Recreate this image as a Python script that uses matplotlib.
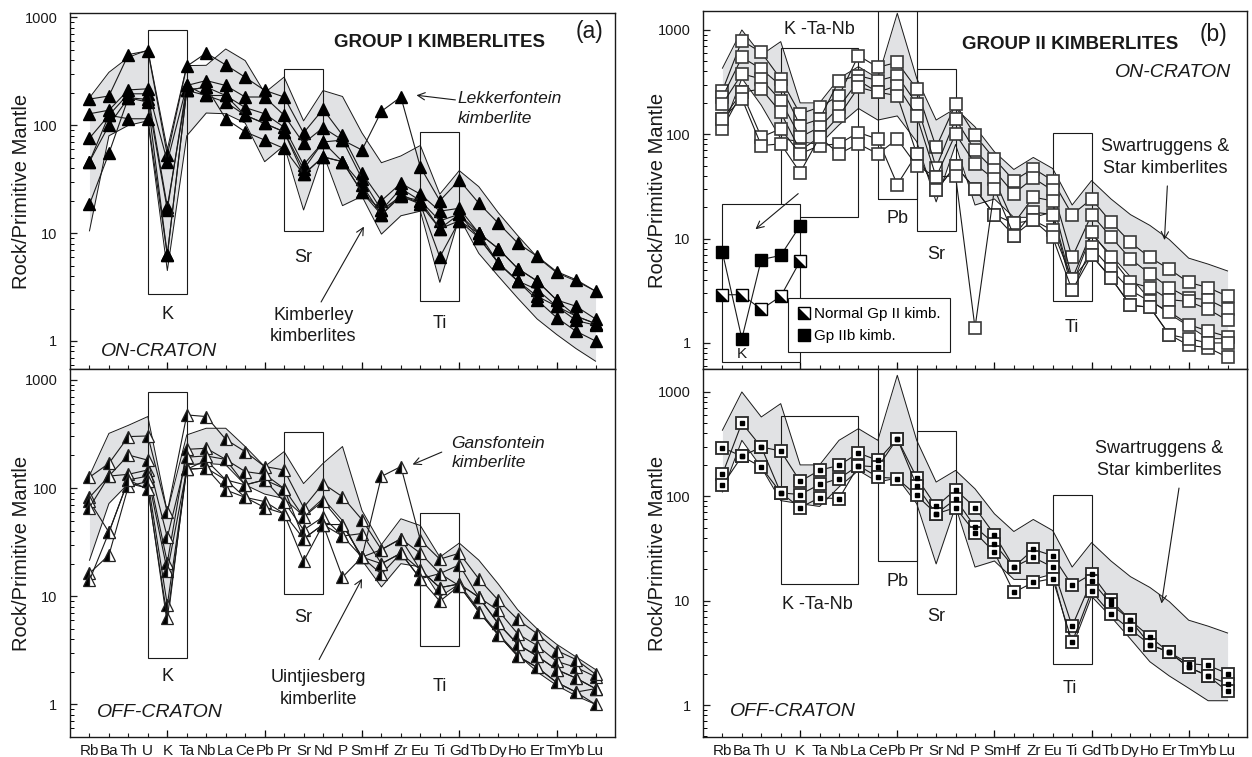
import numpy as np
import matplotlib
matplotlib.use("Agg")
import matplotlib.pyplot as plt
from matplotlib.patches import Rectangle
from matplotlib.lines import Line2D
from matplotlib.ticker import LogLocator, NullFormatter, FixedLocator, FixedFormatter

plt.rcParams['font.family'] = ['Liberation Sans', 'DejaVu Sans']

elements = ["Rb", "Ba", "Th", "U", "K", "Ta", "Nb", "La", "Ce", "Pb", "Pr", "Sr", "Nd", "P",
            "Sm", "Hf", "Zr", "Eu", "Ti", "Gd", "Tb", "Dy", "Ho", "Er", "Tm", "Yb", "Lu"]

# ---- Group I, on-craton (Kimberley, Lekkerfontein) ----
g1_on_lekkerfontein = [128, 138, 213, 218, 46, 234, 260, 234, 183, 183, 124, 68, 95, 73, 59, 135, 183,
                       41, 20, 31, 19, 12.4, 8.1, 6.1, 4.4, 3.7, 2.9]
g1_on_s2 = [175, 187, 453, 490, 53, 353, 468, 363, 279, 211, 183, 85, 141, 81, 36, 20, 29,
            23, 16, 17, 10, 7.2, 4.7, 3.6, 2.4, 2.1, 1.6]
g1_on_s3 = [76, 124, 196, 196, 17.6, 211, 226, 189, 146, 128, 96, 43, 70, 73, 32, 16.3, 26,
            20, 13, 15, 9.1, 5.3, 3.6, 3.0, 2.1, 1.7, 1.45]
g1_on_s4 = [46, 100, 180, 174, 16.5, 234, 189, 164, 124, 104, 87, 39, 70, 46, 28, 14.8, 23,
            18.6, 11, 13, 9.1, 5.3, 3.6, 2.6, 2.1, 1.55, 1.4]
g1_on_s5 = [18.5, 55, 180, 164, 6.3, 211, 226, 115, 87, 73, 61, 35, 51, 46, 24, 16.3, 22,
            18.6, 6.0, 13, 10, 5.3, 3.6, 2.4, 1.65, 1.23, 1.0]
g1_on_s6 = [46, 124, 115, 115, 6.3, 211, 189, 189, 124, 104, 87, 35, 51, 46, 24, 14.8, 22,
            20, 11, 15, 10, 7.2, 4.7, 3.6, 2.4, 1.7, 1.45]
g1_on_field_hi = [180, 310, 427, 500, 60, 358, 360, 510, 398, 200, 280, 110, 210, 185, 85, 45, 52,
                  65, 23, 38, 27, 15.5, 9.5, 6.0, 4.3, 3.6, 2.9]
g1_on_field_lo = [10.5, 80, 100, 110, 4.5, 80, 130, 128, 105, 46, 65, 16.4, 55, 18, 22, 9.8, 14.5,
                  16, 3.5, 14, 6.5, 4.0, 2.5, 1.6, 1.15, 0.85, 0.65]

# ---- Group I, off-craton (Gansfontein, Uintjiesberg) ----
g1_off_gansfontein = [66, 129, 202, 181, 35, 193, 198, 184, 142, 134, 99, 54, 76, 46, 23, 128, 158,
                      33, 22, 25, 14.5, 9.2, 6.1, 4.5, 3.15, 2.6, 1.9]
g1_off_s2 = [126, 169, 299, 303, 60, 474, 458, 282, 217, 158, 147, 66, 110, 83, 51, 27, 34,
             25, 16.2, 19.5, 9.8, 7.4, 4.5, 3.5, 2.5, 2.2, 1.8]
g1_off_s3 = [82, 129, 134, 147, 20.5, 228, 233, 184, 107, 119, 75, 41, 54, 36, 38, 20, 25,
             17.5, 12, 13, 9.8, 5.6, 3.6, 2.8, 2.1, 1.75, 1.4]
g1_off_s4 = [76, 39, 119, 129, 17, 149, 181, 119, 82, 75, 58, 34, 46, 15, 23, 16, 25,
             14.5, 9, 12.5, 7.2, 4.4, 2.8, 2.2, 1.6, 1.3, 1.0]
g1_off_uintjiesberg = [16.3, 24, 104, 115, 8.3, 149, 153, 96, 82, 66, 58, 21, 46, 36, 23, 27, 34,
                       17.5, 12, 13, 9.8, 5.6, 3.6, 2.8, 2.1, 1.75, 1.4]
g1_off_s6 = [14, 39, 119, 97, 6.3, 149, 153, 119, 107, 119, 99, 34, 46, 46, 23, 20, 25,
             14.5, 16.2, 12.5, 7.2, 4.4, 2.8, 2.2, 1.6, 1.3, 1.4]
g1_off_field_hi = [130, 320, 380, 458, 60, 310, 357, 357, 242, 158, 217, 110, 169, 242, 62, 30, 52,
                   45, 23, 31, 21.6, 13, 7.5, 5.0, 3.6, 2.75, 2.1]
g1_off_field_lo = [21.5, 72, 110, 100, 5.5, 164, 169, 164, 107, 88, 80, 55, 80, 50, 21.5, 12.2, 20,
                   18.7, 9.9, 13, 7.5, 4.5, 2.9, 2.0, 1.5, 1.2, 1.0]

# ---- Group II, on-craton ----
g2_on_s1 = [262, 790, 610, 339, 157, 182, 235, 567, 439, 490, 272, 75, 195, 98, 58, 36, 47,
            36, 17, 24, 14.4, 9.2, 6.6, 5.1, 3.8, 3.4, 2.8]
g2_on_s2 = [227, 547, 423, 293, 121, 140, 327, 365, 327, 365, 195, 48, 140, 70, 45, 27, 38,
            29, 6.6, 17, 10.4, 6.4, 4.6, 3.4, 2.7, 2.6, 2.1]
g2_on_s3 = [195, 380, 339, 210, 94, 117, 182, 327, 253, 293, 150, 39, 101, 52, 37, 14, 25,
            23, 4.1, 11.5, 6.6, 3.8, 3.4, 2.6, 2.5, 2.1, 1.65]
g2_on_s4 = [140, 253, 272, 162, 70, 94, 150, 282, 253, 235, 65, 29, 50, 30, 17, 10.7, 18,
            17, 3.2, 8.3, 5.1, 3.2, 2.5, 2.0, 1.5, 1.3, 1.15]
g2_on_s5 = [113, 253, 94, 113, 65, 78, 81, 104, 90, 33, 65, 29, 50, 30, 17, 14, 15,
            12, 4.1, 6.9, 4.2, 2.3, 2.2, 1.2, 0.95, 0.9, 0.73]
g2_on_s6 = [140, 220, 78, 81, 43, 94, 65, 81, 65, 90, 50, 39, 40, 1.4, 30, 10.7, 15,
            10.3, 3.2, 6.9, 4.2, 2.3, 2.2, 1.2, 1.1, 1.0, 1.0]

# ---- Group II, off-craton ----
g2_off_s1 = [163, 505, 297, 272, 139, 178, 198, 260, 221, 357, 151, 80, 116, 78, 43, 21, 31,
             27, 14, 18, 10.1, 6.5, 4.5, 3.2, 2.5, 2.4, 2.0]
g2_off_s2 = [128, 242, 191, 108, 104, 130, 148, 197, 191, 357, 126, 68, 94, 51, 35, 21, 26,
             21, 5.7, 15.5, 9.3, 6.5, 3.8, 3.2, 2.3, 1.9, 1.6]
g2_off_s3 = [293, 242, 297, 108, 78, 97, 95, 197, 153, 148, 102, 68, 78, 45, 29, 12, 15,
             16.3, 4.0, 12.3, 7.4, 5.3, 3.8, 3.2, 2.3, 1.9, 1.35]

# Swartruggens & Star field (both Group II panels)
g2_field_hi = [430, 1000, 576, 773, 200, 200, 344, 445, 344, 1445, 344, 137, 177, 118, 68, 46, 60,
               47, 21, 36, 24, 17, 13.4, 9.8, 6.5, 5.7, 4.9]
g2_field_lo = [110, 344, 190, 91, 85, 80, 123, 177, 137, 150, 85, 22.5, 80, 21, 24, 16, 16,
               18, 3.6, 11, 7, 4.3, 2.6, 1.9, 1.45, 1.1, 1.1]

# K-Ta-Nb inset (U, K, Ta, Nb, La)
inset_normal = [2.9, 2.9, 2.1, 2.8, 6.1]
inset_gp2b = [7.4, 1.1, 6.3, 6.9, 13.3]

x = np.arange(1, len(elements) + 1)
FIELD = '#e1e2e4'
INK = '#1a1a1a'

fig = plt.figure(figsize=(12.52, 7.57), dpi=100)
W, H = 1252.0, 757.0
ax_a1 = fig.add_axes([70 / W, 1 - 369 / H, 545 / W, 356 / H])
ax_a2 = fig.add_axes([70 / W, 1 - 737 / H, 545 / W, 368 / H])
ax_b1 = fig.add_axes([703 / W, 1 - 369 / H, 544 / W, 358 / H])
ax_b2 = fig.add_axes([703 / W, 1 - 737 / H, 544 / W, 368 / H])


def style_axis(ax, ylim, show_xlabels):
    ax.set_yscale('log')
    ax.set_xlim(0, 28)
    ax.set_ylim(*ylim)
    ax.set_yticks([1, 10, 100, 1000])
    ax.set_yticklabels(['1', '10', '100', '1000'])
    ax.yaxis.set_minor_locator(LogLocator(base=10, subs=np.arange(2, 10)))
    ax.yaxis.set_minor_formatter(NullFormatter())
    ax.xaxis.remove_overlapping_locs = False
    ax.xaxis.set_major_locator(FixedLocator([5, 10, 15, 20, 25]))
    ax.xaxis.set_minor_locator(FixedLocator(list(x)))
    ax.set_xticklabels([])
    if show_xlabels:
        ax.xaxis.set_minor_formatter(FixedFormatter(elements))
    else:
        ax.xaxis.set_minor_formatter(NullFormatter())
    ax.tick_params(axis='x', which='major', direction='in', length=5, width=0.9, top=False)
    ax.tick_params(axis='x', which='minor', direction='in', length=2.6, width=0.8, top=False,
                   labelsize=11, pad=5, colors=INK)
    ax.tick_params(axis='y', which='major', direction='in', length=5, width=0.9, right=False,
                   labelsize=10.5, pad=9, colors=INK)
    ax.tick_params(axis='y', which='minor', direction='in', length=2.6, width=0.7, right=False)
    for s in ax.spines.values():
        s.set_linewidth(1.0)
        s.set_color(INK)
    ax.set_ylabel('Rock/Primitive Mantle', fontsize=14.5, color=INK)


def draw_box(ax, x0, x1, y0, y1):
    ax.add_patch(Rectangle((x0, y0), x1 - x0, y1 - y0, fill=False, lw=0.8,
                           edgecolor=INK, zorder=2))


def draw_field(ax, hi, lo):
    ax.fill_between(x, lo, hi, color=FIELD, lw=0, zorder=1)
    ax.plot(x, hi, color=INK, lw=0.7, zorder=1.5)
    ax.plot(x, lo, color=INK, lw=0.7, zorder=1.5)


def arrow(ax, xy_from, xy_to):
    ax.annotate('', xy=xy_to, xytext=xy_from,
                arrowprops=dict(arrowstyle='->', lw=0.8, color=INK, shrinkA=0, shrinkB=0,
                                mutation_scale=13), zorder=5)


# ---------------- (a) top: Group I on-craton ----------------
ax = ax_a1
style_axis(ax, (0.55, 1100), False)
ax.yaxis.set_label_coords(-0.072, 0.5)
draw_field(ax, g1_on_field_hi, g1_on_field_lo)
draw_box(ax, 4, 6, 2.7, 770)
draw_box(ax, 11, 13, 10.4, 334)
draw_box(ax, 18, 20, 2.37, 87)
for s in [g1_on_s2, g1_on_s3, g1_on_s4, g1_on_s5, g1_on_s6, g1_on_lekkerfontein]:
    ax.plot(x, s, color=INK, lw=0.8, marker='^', ms=8, mfc='black', mec='black', zorder=3)
ax.text(19.0, 590, 'GROUP I KIMBERLITES', fontsize=13.5, fontweight='bold', ha='center',
        va='center', color=INK)
ax.text(26.7, 740, '(a)', fontsize=16.5, ha='center', va='center', color=INK)
ax.text(19.9, 143, 'Lekkerfontein\nkimberlite', fontsize=12.5, style='italic', ha='left',
        va='center', linespacing=1.35, color=INK)
arrow(ax, (19.8, 172), (17.8, 190))
ax.text(5, 1.75, 'K', fontsize=13, ha='center', va='center', color=INK)
ax.text(12, 6.0, 'Sr', fontsize=13, ha='center', va='center', color=INK)
ax.text(19, 1.45, 'Ti', fontsize=13, ha='center', va='center', color=INK)
ax.text(12.5, 1.38, 'Kimberley\nkimberlites', fontsize=13, ha='center', va='center',
        linespacing=1.35, color=INK)
arrow(ax, (12.9, 2.3), (15.1, 11.5))
ax.text(1.6, 0.8, 'ON-CRATON', fontsize=14, style='italic', ha='left', va='center', color=INK)

# ---------------- (a) bottom: Group I off-craton ----------------
ax = ax_a2
style_axis(ax, (0.5, 1260), True)
ax.yaxis.set_label_coords(-0.072, 0.5)
draw_field(ax, g1_off_field_hi, g1_off_field_lo)
draw_box(ax, 4, 6, 2.7, 780)
draw_box(ax, 11, 13, 10.4, 333)
draw_box(ax, 18, 20, 3.5, 59)
for s in [g1_off_s2, g1_off_s3, g1_off_s4, g1_off_uintjiesberg, g1_off_s6, g1_off_gansfontein]:
    ax.plot(x, s, color=INK, lw=0.8, marker='^', ms=8, fillstyle='left', mfc='black',
            mfcalt='white', mec='#222222', mew=0.9, zorder=3)
ax.text(19.6, 212, 'Gansfontein\nkimberlite', fontsize=12.5, style='italic', ha='left',
        va='center', linespacing=1.35, color=INK)
arrow(ax, (19.1, 215), (17.6, 165))
ax.text(5, 1.8, 'K', fontsize=13, ha='center', va='center', color=INK)
ax.text(12, 6.4, 'Sr', fontsize=13, ha='center', va='center', color=INK)
ax.text(19, 1.45, 'Ti', fontsize=13, ha='center', va='center', color=INK)
ax.text(12.75, 1.4, 'Uintjiesberg\nkimberlite', fontsize=13, ha='center', va='center',
        linespacing=1.35, color=INK)
arrow(ax, (12.8, 2.6), (15.0, 14.5))
ax.text(1.4, 0.85, 'OFF-CRATON', fontsize=14, style='italic', ha='left', va='center', color=INK)

# ---------------- (b) top: Group II on-craton ----------------
ax = ax_b1
style_axis(ax, (0.563, 1520), False)
ax.yaxis.set_label_coords(-0.066, 0.5)
draw_field(ax, g2_field_hi, g2_field_lo)
draw_box(ax, 4, 8, 16, 672)
draw_box(ax, 9, 11, 24, 3000)
draw_box(ax, 11, 13, 11.8, 423)
draw_box(ax, 18, 20, 2.5, 103)
for s in [g2_on_s1, g2_on_s2, g2_on_s3, g2_on_s4, g2_on_s5, g2_on_s6]:
    ax.plot(x, s, color=INK, lw=0.8, marker='s', ms=8.5, mfc='white', mec='#3a3a3a',
            mew=1.2, zorder=3)
ax.text(6.0, 1000, 'K -Ta-Nb', fontsize=13, ha='center', va='center', color=INK)
ax.text(18.9, 720, 'GROUP II KIMBERLITES', fontsize=13.5, fontweight='bold', ha='center',
        va='center', color=INK)
ax.text(26.3, 900, '(b)', fontsize=16.5, ha='center', va='center', color=INK)
ax.text(27.2, 395, 'ON-CRATON', fontsize=14, style='italic', ha='right', va='center', color=INK)
ax.text(10, 15.5, 'Pb', fontsize=13, ha='center', va='center', color=INK)
ax.text(12, 7.0, 'Sr', fontsize=13, ha='center', va='center', color=INK)
ax.text(19, 1.4, 'Ti', fontsize=13, ha='center', va='center', color=INK)
ax.text(23.8, 60, 'Swartruggens &\nStar kimberlites', fontsize=13, ha='center', va='center',
        linespacing=1.35, color=INK)
arrow(ax, (23.9, 32), (23.75, 9.7))

# K-Ta-Nb inset
ax.add_patch(Rectangle((1, 0.66), 4, 21.5 - 0.66, facecolor='white', lw=0.8,
                       edgecolor=INK, zorder=2))
arrow(ax, (4.9, 27), (2.7, 12.3))
ix = np.arange(1, 6)
ax.plot(ix, inset_gp2b, color=INK, lw=0.8, marker='s', ms=9, mfc='black', mec='black', zorder=3)
ax.plot(ix, inset_normal, color=INK, lw=0.8, marker='s', ms=9, mfc='white', mec='black',
        mew=1.0, zorder=3)
half_tri = [(-1, 1), (-1, -1), (1, -1)]
ax.plot(ix, inset_normal, ls='none', marker=half_tri, ms=9, mfc='black', mec='black',
        mew=0.6, zorder=3.5)
ax.text(2, 0.78, 'K', fontsize=11, ha='center', va='center', color=INK)
h_normal = (Line2D([], [], ls='none', marker='s', ms=9, mfc='white', mec='black', mew=1.0),
            Line2D([], [], ls='none', marker=half_tri, ms=9, mfc='black', mec='black', mew=0.6))
h_gp2b = Line2D([], [], ls='none', marker='s', ms=9, mfc='black', mec='black')
leg = ax.legend([h_normal, h_gp2b], ['Normal Gp II kimb.', 'Gp IIb kimb.'],
                loc='lower left', bbox_to_anchor=(0.143, 0.026), fontsize=11,
                frameon=True, fancybox=False, framealpha=1, edgecolor=INK,
                handlelength=0.8, handletextpad=0.3, borderpad=0.6, labelspacing=0.5)
leg.get_frame().set_linewidth(0.8)
leg.set_zorder(6)

# ---------------- (b) bottom: Group II off-craton ----------------
ax = ax_b2
style_axis(ax, (0.494, 1660), True)
ax.yaxis.set_label_coords(-0.066, 0.5)
draw_field(ax, g2_field_hi, g2_field_lo)
draw_box(ax, 4, 8, 14.3, 584)
draw_box(ax, 9, 11, 24, 3000)
draw_box(ax, 11, 13, 11.7, 420)
draw_box(ax, 18, 20, 2.5, 104)
for s in [g2_off_s1, g2_off_s2, g2_off_s3]:
    ax.plot(x, s, color=INK, lw=0.8, marker='s', ms=9, mfc='white', mec='#2a2a2a',
            mew=1.3, zorder=3)
    ax.plot(x, s, ls='none', marker='s', ms=3.4, mfc='black', mec='black', zorder=3.5)
ax.text(5.9, 9.1, 'K -Ta-Nb', fontsize=13, ha='center', va='center', color=INK)
ax.text(10, 15.4, 'Pb', fontsize=13, ha='center', va='center', color=INK)
ax.text(12, 7.0, 'Sr', fontsize=13, ha='center', va='center', color=INK)
ax.text(18.9, 1.45, 'Ti', fontsize=13, ha='center', va='center', color=INK)
ax.text(23.5, 225, 'Swartruggens &\nStar kimberlites', fontsize=13, ha='center', va='center',
        linespacing=1.35, color=INK)
arrow(ax, (24.5, 120), (23.6, 9.4))
ax.text(1.4, 0.86, 'OFF-CRATON', fontsize=14, style='italic', ha='left', va='center', color=INK)

fig.savefig('out.png', dpi=100, facecolor='white')
